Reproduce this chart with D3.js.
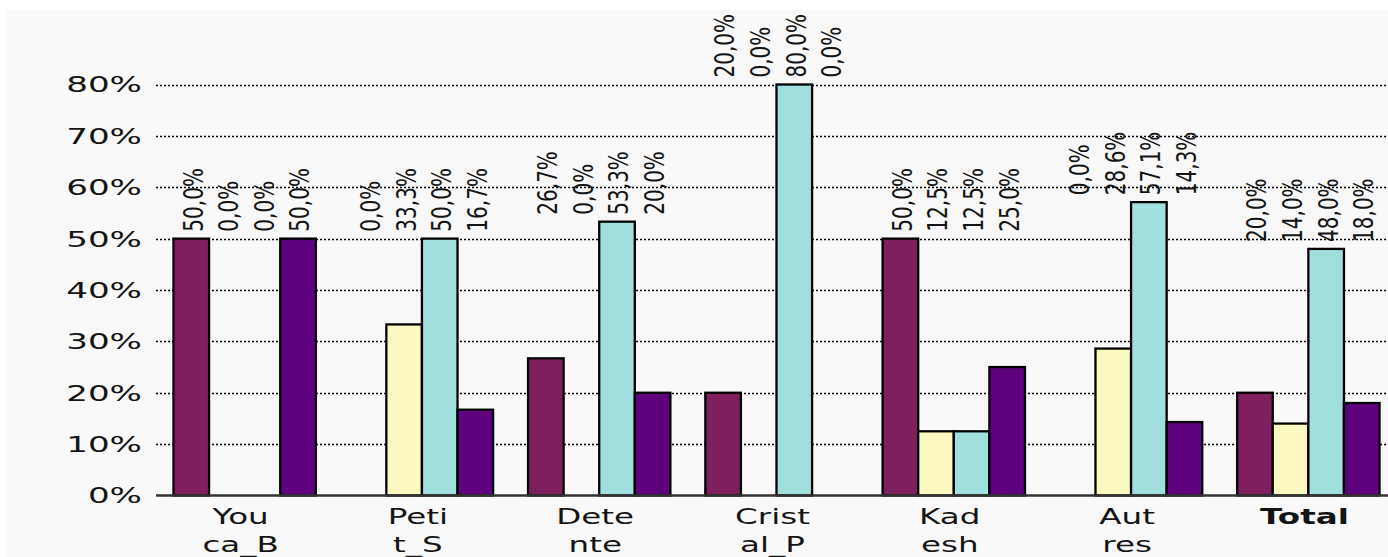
<!DOCTYPE html>
<html>
<head>
<meta charset="utf-8">
<script src="https://cdn.jsdelivr.net/npm/d3@7"></script>
<style>
  html, body { margin: 0; padding: 0; background: #ffffff; }
  svg { display: block; }
</style>
</head>
<body>
<svg id="chart" width="1388" height="557"></svg>
<script>
// ---- data ----
const categories = ["You\nca_B", "Peti\nt_S", "Dete\nnte", "Crist\nal_P", "Kad\nesh", "Aut\nres", "Total"];
const series1 = [50.0, 0.0, 26.7, 20.0, 50.0, 0.0, 20.0];
const series2 = [0.0, 33.3, 0.0, 0.0, 12.5, 28.6, 14.0];
const series3 = [0.0, 50.0, 53.3, 80.0, 12.5, 57.1, 48.0];
const series4 = [50.0, 16.7, 20.0, 0.0, 25.0, 14.3, 18.0];
const seriesValues = [series1, series2, series3, series4];
const seriesColors = ["#801f5e", "#fbf9bf", "#a1dfdf", "#5f007f"];
const yTicks = [0, 10, 20, 30, 40, 50, 60, 70, 80];

// ---- layout ----
const svg = d3.select("#chart");
const W = 1388, H = 557;
const plotLeft = 156, plotRight = 1397, yBottom = 495.5, yTop = 84.5;

svg.append("rect").attr("x", 7).attr("y", 10).attr("width", W - 7).attr("height", H - 10)
  .attr("fill", "#f9f9f9");

const x0 = d3.scaleBand().domain(categories).range([plotLeft, plotRight])
  .paddingInner(0.197).paddingOuter(0.0985);
const x1 = d3.scaleBand().domain(d3.range(seriesValues.length)).range([0, x0.bandwidth()]);
const y = d3.scaleLinear().domain([0, 80]).range([yBottom, yTop]);

const fmt = v => v.toFixed(1).replace(".", ",") + "%";
const FONT = "'DejaVu Sans', sans-serif";

// gridlines
const grid = svg.append("g");
grid.selectAll("line").data(yTicks.filter(t => t > 0)).join("line")
  .attr("x1", plotLeft).attr("x2", W)
  .attr("y1", d => Math.round(y(d)) + 0.5).attr("y2", d => Math.round(y(d)) + 0.5)
  .attr("stroke", "#000").attr("stroke-width", 1.5).attr("stroke-dasharray", "2,2");

// y tick labels
const yl = svg.append("g");
yl.selectAll("g").data(yTicks).join("g")
  .attr("transform", d => `translate(142,${y(d)})`)
  .append("text")
  .attr("transform", "scale(1.55,1)")
  .attr("text-anchor", "end").attr("dy", "0.36em")
  .attr("font-family", FONT).attr("font-size", 22).attr("fill", "#141414")
  .text(d => d + "%");

// bars
const groups = svg.append("g").selectAll("g").data(categories).join("g")
  .attr("transform", d => `translate(${x0(d)},0)`);
groups.selectAll("rect").data((c, ci) => seriesValues.map((s, si) => ({ si, v: s[ci] })))
  .join("rect")
  .filter(d => d.v > 0)
  .attr("x", d => x1(d.si)).attr("width", x1.bandwidth())
  .attr("y", d => y(d.v)).attr("height", d => y(0) - y(d.v))
  .attr("fill", d => seriesColors[d.si])
  .attr("stroke", "#000").attr("stroke-width", 2.3);

// x axis line
svg.append("line").attr("x1", plotLeft).attr("x2", W)
  .attr("y1", yBottom).attr("y2", yBottom)
  .attr("stroke", "#333").attr("stroke-width", 2.5);

// value labels (rotated), anchored above tallest bar of the group
groups.each(function (c, ci) {
  const g = d3.select(this);
  const maxV = d3.max(seriesValues, s => s[ci]);
  seriesValues.forEach((s, si) => {
    g.append("g")
      .attr("transform", `translate(${x1(si) + x1.bandwidth() / 2 + 2},${y(maxV) - 7}) rotate(-90)`)
      .append("text")
      .attr("transform", "scale(1,1.3)")
      .attr("dy", "0.36em")
      .attr("font-family", FONT).attr("font-size", 20).attr("fill", "#141414")
      .text(fmt(s[ci]));
  });
});

// x category labels
const xl = svg.append("g").selectAll("g").data(categories).join("g")
  .attr("transform", d => `translate(${x0(d) + x0.bandwidth() / 2 - 4},524)`);
xl.each(function (d) {
  const lines = d.split("\n");
  const t = d3.select(this).append("text")
    .attr("transform", "scale(1.55,1)")
    .attr("text-anchor", "middle")
    .attr("font-family", FONT).attr("font-size", 21).attr("fill", "#141414")
    .attr("font-weight", d === "Total" ? "bold" : "normal");
  lines.forEach((ln, i) => {
    t.append("tspan").attr("x", 0).attr("y", i * 28).text(ln);
  });
});
</script>
</body>
</html>
